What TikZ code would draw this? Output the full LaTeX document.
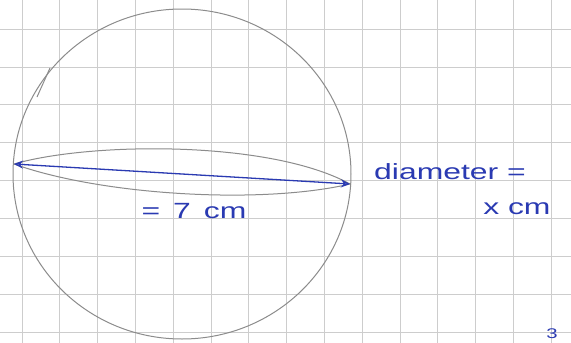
\documentclass[tikz,border=0pt]{standalone}
\usepackage{fontspec}
\usepackage{xcolor}
\usepackage{tikz}
\usetikzlibrary{arrows.meta}
\newfontfamily\handfont{Liberation Sans}
\definecolor{penblue}{RGB}{42,58,178}
\definecolor{pencilgray}{RGB}{140,140,140}
\definecolor{squaregray}{RGB}{205,205,205}

\begin{document}
\begin{tikzpicture}[x=1pt,y=-1pt,
  gridline/.style={squaregray, line width=0.8pt},
  pencil/.style={pencilgray, line width=1pt},
  bluepen/.style={penblue, line width=1.3pt},
  handtext/.style={penblue, font=\handfont\fontsize{22}{24}\selectfont, xscale=1.45, inner sep=0pt}]
  \useasboundingbox (0,0) rectangle (571,343);
  \clip (0,0) rectangle (571,343);
  \fill[white] (0,0) rectangle (571,343);
  % squared paper
  \foreach \i in {0,...,14} \draw[gridline] ({22+37.8*\i},0) -- ({22+37.8*\i},343);
  \foreach \j in {0,...,8} \draw[gridline] (0,{29+37.9*\j}) -- (571,{29+37.9*\j});
  % the circle and the lens across it
  \draw[pencil] (182,174) ellipse [x radius=169, y radius=165];
  \draw[pencil] (37,97) -- (50,68);
  \coordinate (west) at (14,164);
  \coordinate (east) at (350,184);
  \draw[pencil] (west) .. controls (90,142) and (270,140) .. (east) .. controls (260,205) and (100,195) .. (west);
  \draw[bluepen, {Stealth[open, length=9pt, width=8pt]}-{Stealth[open, length=9pt, width=8pt]}] (west) -- (east);
  % labels
  \node[handtext] (length) at (194,211) {=\hspace{9pt}7\hspace{9pt}cm};
  \node[handtext] (diam) at (450,172) {diameter =};
  \node[handtext] (xcm) at (517,209) {x\hspace{6pt}cm};
  \node[handtext, anchor=south, font=\handfont\fontsize{14}{16}\selectfont] (page) at (552,339) {3};
\end{tikzpicture}
\end{document}
